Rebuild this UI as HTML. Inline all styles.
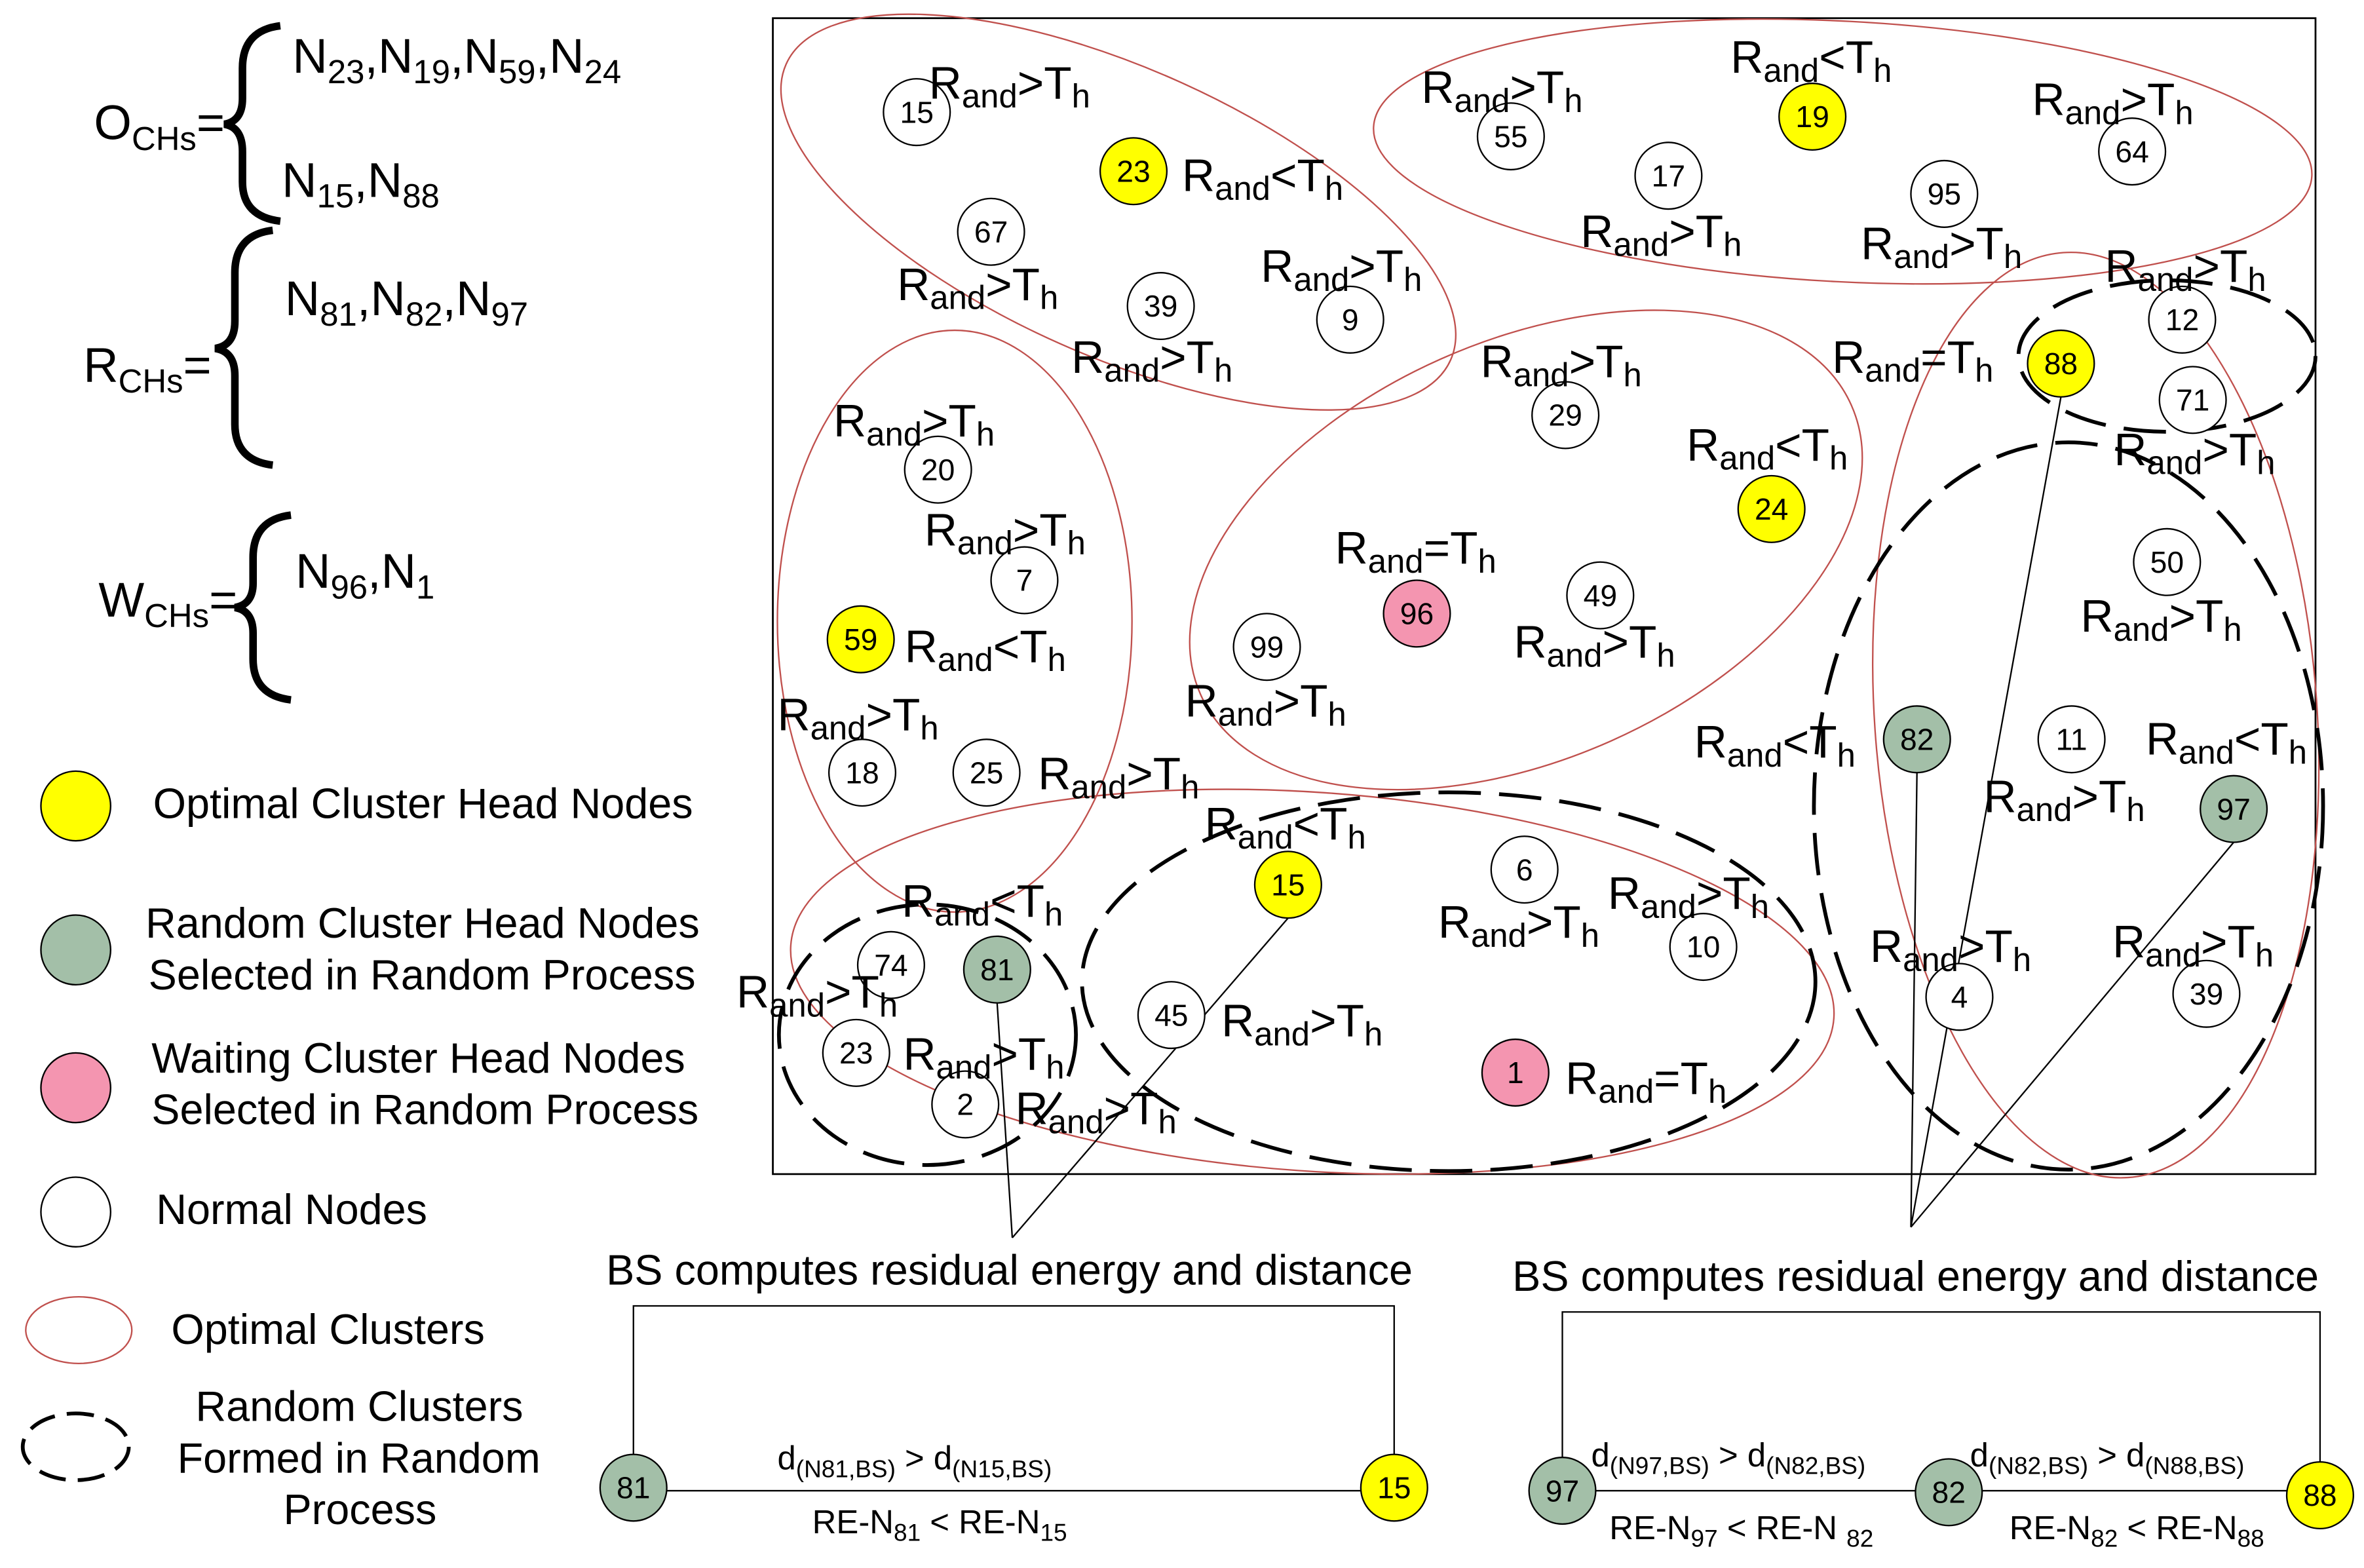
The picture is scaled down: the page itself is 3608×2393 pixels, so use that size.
<!DOCTYPE html>
<html><head><meta charset="utf-8"><style>html,body{margin:0;padding:0;background:#fff}svg{display:block}text{font-family:"Liberation Sans",sans-serif;fill:#000}</style></head><body>
<svg width="3608" height="2393" viewBox="0 0 1560 1035" preserveAspectRatio="none" xmlns="http://www.w3.org/2000/svg">
<rect x="510" y="12" width="1018" height="763" fill="none" stroke="#000" stroke-width="1.2"/>
<g fill="none" stroke="#c0504d" stroke-width="1">
<ellipse cx="738" cy="140" rx="240" ry="95" transform="rotate(24 738 140)"/>
<ellipse cx="1216" cy="100" rx="310" ry="86" transform="rotate(3 1216 100)"/>
<ellipse cx="630" cy="410" rx="117" ry="192"/>
<ellipse cx="1007" cy="363" rx="235" ry="138" transform="rotate(-24 1007 363)"/>
<ellipse cx="1383" cy="472" rx="146" ry="306" transform="rotate(-4 1383 472)"/>
<ellipse cx="866" cy="648" rx="345" ry="125" transform="rotate(4 866 648)"/>
<ellipse cx="52" cy="878" rx="35" ry="22"/>
</g>
<g fill="none" stroke="#000" stroke-width="2.5" stroke-dasharray="28 12">
<ellipse cx="1430" cy="235" rx="98" ry="50"/>
<ellipse cx="1365" cy="532" rx="168" ry="240"/>
<ellipse cx="956" cy="648" rx="242" ry="125"/>
<ellipse cx="612" cy="683" rx="98" ry="86"/>
<ellipse cx="50" cy="955" rx="35" ry="22" stroke-dasharray="18 8"/>
</g>
<g stroke="#000" stroke-width="1" fill="none">
<path d="M668 817L658 662M668 817L850 606M1261 810L1360 262M1261 810L1265 510M1261 810L1474 556"/>
<path d="M418 960V862H920V960M418 984H920"/>
<path d="M1031 962V866H1531V965M1031 984H1531"/>
</g>
<g stroke="#000" stroke-width="5" fill="none">
<path d="M185 17Q160 20 160 45V65Q160 80 148 82Q160 84 160 100V120Q160 143 185 146"/>
<path d="M180 152Q155 155 155 180V212Q155 228 142 230Q155 232 155 248V280Q155 304 180 307"/>
<path d="M192 340Q167 343 167 368V385Q167 399 155 401Q167 403 167 418V435Q167 459 192 462"/>
</g>
<g font-size="32">
<text x="62" y="92">O<tspan font-size="22" dy="7">CHs</tspan><tspan dy="-7">=</tspan></text>
<text x="193" y="48">N<tspan font-size="22" dy="7">23</tspan><tspan dy="-7">,N</tspan><tspan font-size="22" dy="7">19</tspan><tspan dy="-7">,N</tspan><tspan font-size="22" dy="7">59</tspan><tspan dy="-7">,N</tspan><tspan font-size="22" dy="7">24</tspan></text>
<text x="186" y="130">N<tspan font-size="22" dy="7">15</tspan><tspan dy="-7">,N</tspan><tspan font-size="22" dy="7">88</tspan></text>
<text x="55" y="252">R<tspan font-size="22" dy="7">CHs</tspan><tspan dy="-7">=</tspan></text>
<text x="188" y="208">N<tspan font-size="22" dy="7">81</tspan><tspan dy="-7">,N</tspan><tspan font-size="22" dy="7">82</tspan><tspan dy="-7">,N</tspan><tspan font-size="22" dy="7">97</tspan></text>
<text x="65" y="407">W<tspan font-size="22" dy="7">CHs</tspan><tspan dy="-7">=</tspan></text>
<text x="195" y="388">N<tspan font-size="22" dy="7">96</tspan><tspan dy="-7">,N</tspan><tspan font-size="22" dy="7">1</tspan></text>
</g>
<g font-size="28">
<text x="101" y="540">Optimal Cluster Head Nodes</text>
<text x="96" y="619">Random Cluster Head Nodes</text>
<text x="98" y="653">Selected in Random Process</text>
<text x="100" y="708">Waiting Cluster Head Nodes</text>
<text x="100" y="742">Selected in Random Process</text>
<text x="103" y="808">Normal Nodes</text>
<text x="113" y="887">Optimal Clusters</text>
<text x="129" y="938">Random Clusters</text>
<text x="117" y="972">Formed in Random</text>
<text x="187" y="1006">Process</text>
<text x="400" y="848">BS computes residual energy and distance</text>
<text x="998" y="852">BS computes residual energy and distance</text>
</g>
<g font-size="22">
<text x="513" y="970">d<tspan font-size="16" dy="5">(N81,BS)</tspan><tspan dy="-5"> &gt; d</tspan><tspan font-size="16" dy="5">(N15,BS)</tspan></text>
<text x="536" y="1012">RE-N<tspan font-size="16" dy="5">81</tspan><tspan dy="-5"> &lt; RE-N</tspan><tspan font-size="16" dy="5">15</tspan></text>
<text x="1050" y="968">d<tspan font-size="16" dy="5">(N97,BS)</tspan><tspan dy="-5"> &gt; d</tspan><tspan font-size="16" dy="5">(N82,BS)</tspan></text>
<text x="1062" y="1016">RE-N<tspan font-size="16" dy="5">97</tspan><tspan dy="-5"> &lt; RE-N </tspan><tspan font-size="16" dy="5">82</tspan></text>
<text x="1300" y="968">d<tspan font-size="16" dy="5">(N82,BS)</tspan><tspan dy="-5"> &gt; d</tspan><tspan font-size="16" dy="5">(N88,BS)</tspan></text>
<text x="1326" y="1016">RE-N<tspan font-size="16" dy="5">82</tspan><tspan dy="-5"> &lt; RE-N</tspan><tspan font-size="16" dy="5">88</tspan></text>
</g>
<g stroke="#000" stroke-width="1">
<circle cx="50" cy="532" r="23" fill="#ffff00"/>
<circle cx="50" cy="627" r="23" fill="#a3bfa8"/>
<circle cx="50" cy="718" r="23" fill="#f495b0"/>
<circle cx="50" cy="800" r="23" fill="#fff"/>
</g>
<g font-size="19" text-anchor="middle" stroke="#000" stroke-width="1">
<g fill="#fff">
<circle cx="605" cy="74" r="22"/><circle cx="654" cy="153" r="22"/><circle cx="766" cy="202" r="22"/><circle cx="891" cy="211" r="22"/><circle cx="997" cy="90" r="22"/><circle cx="1101" cy="116" r="22"/><circle cx="1283" cy="128" r="22"/><circle cx="1407" cy="100" r="22"/><circle cx="1440" cy="211" r="22"/><circle cx="1447" cy="264" r="22"/><circle cx="1033" cy="274" r="22"/><circle cx="619" cy="310" r="22"/><circle cx="676" cy="383" r="22"/><circle cx="836" cy="427" r="22"/><circle cx="1056" cy="393" r="22"/><circle cx="1430" cy="371" r="22"/><circle cx="569" cy="510" r="22"/><circle cx="651" cy="510" r="22"/><circle cx="1367" cy="488" r="22"/><circle cx="1006" cy="574" r="22"/><circle cx="1124" cy="625" r="22"/><circle cx="588" cy="637" r="22"/><circle cx="773" cy="670" r="22"/><circle cx="565" cy="695" r="22"/><circle cx="637" cy="729" r="22"/><circle cx="1293" cy="658" r="22"/><circle cx="1456" cy="656" r="22"/>
</g>
<g fill="#ffff00"><circle cx="748" cy="113" r="22"/><circle cx="1196" cy="77" r="22"/><circle cx="1360" cy="240" r="22"/><circle cx="1169" cy="336" r="22"/><circle cx="568" cy="422" r="22"/><circle cx="850" cy="584" r="22"/><circle cx="920" cy="982" r="22"/><circle cx="1531" cy="987" r="22"/></g>
<g fill="#a3bfa8"><circle cx="1265" cy="488" r="22"/><circle cx="1474" cy="534" r="22"/><circle cx="658" cy="640" r="22"/><circle cx="418" cy="982" r="22"/><circle cx="1031" cy="984" r="22"/><circle cx="1286" cy="985" r="22"/></g>
<g fill="#f495b0"><circle cx="935" cy="405" r="22"/><circle cx="1000" cy="708" r="22"/></g>
</g>
<g font-size="20" text-anchor="middle">
<text x="605" y="81">15</text><text x="654" y="160">67</text><text x="766" y="209">39</text><text x="891" y="218">9</text><text x="997" y="97">55</text><text x="1101" y="123">17</text><text x="1283" y="135">95</text><text x="1407" y="107">64</text><text x="1440" y="218">12</text><text x="1447" y="271">71</text><text x="1033" y="281">29</text><text x="619" y="317">20</text><text x="676" y="390">7</text><text x="836" y="434">99</text><text x="1056" y="400">49</text><text x="1430" y="378">50</text><text x="569" y="517">18</text><text x="651" y="517">25</text><text x="1367" y="495">11</text><text x="1006" y="581">6</text><text x="1124" y="632">10</text><text x="588" y="644">74</text><text x="773" y="677">45</text><text x="565" y="702">23</text><text x="637" y="736">2</text><text x="1293" y="665">4</text><text x="1456" y="663">39</text>
<text x="748" y="120">23</text><text x="1196" y="84">19</text><text x="1360" y="247">88</text><text x="1169" y="343">24</text><text x="568" y="429">59</text><text x="850" y="591">15</text><text x="920" y="989">15</text><text x="1531" y="994">88</text>
<text x="1265" y="495">82</text><text x="1474" y="541">97</text><text x="658" y="647">81</text><text x="418" y="989">81</text><text x="1031" y="991">97</text><text x="1286" y="992">82</text>
<text x="935" y="412">96</text><text x="1000" y="715">1</text>
</g>
<g font-size="30">
<text x="613" y="65">R<tspan font-size="22" dy="6">and</tspan><tspan dy="-6">&gt;T</tspan><tspan font-size="22" dy="6">h</tspan></text>
<text x="780" y="126">R<tspan font-size="22" dy="6">and</tspan><tspan dy="-6">&lt;T</tspan><tspan font-size="22" dy="6">h</tspan></text>
<text x="592" y="198">R<tspan font-size="22" dy="6">and</tspan><tspan dy="-6">&gt;T</tspan><tspan font-size="22" dy="6">h</tspan></text>
<text x="707" y="246">R<tspan font-size="22" dy="6">and</tspan><tspan dy="-6">&gt;T</tspan><tspan font-size="22" dy="6">h</tspan></text>
<text x="832" y="186">R<tspan font-size="22" dy="6">and</tspan><tspan dy="-6">&gt;T</tspan><tspan font-size="22" dy="6">h</tspan></text>
<text x="938" y="68">R<tspan font-size="22" dy="6">and</tspan><tspan dy="-6">&gt;T</tspan><tspan font-size="22" dy="6">h</tspan></text>
<text x="1142" y="48">R<tspan font-size="22" dy="6">and</tspan><tspan dy="-6">&lt;T</tspan><tspan font-size="22" dy="6">h</tspan></text>
<text x="1341" y="76">R<tspan font-size="22" dy="6">and</tspan><tspan dy="-6">&gt;T</tspan><tspan font-size="22" dy="6">h</tspan></text>
<text x="1043" y="163">R<tspan font-size="22" dy="6">and</tspan><tspan dy="-6">&gt;T</tspan><tspan font-size="22" dy="6">h</tspan></text>
<text x="1228" y="171">R<tspan font-size="22" dy="6">and</tspan><tspan dy="-6">&gt;T</tspan><tspan font-size="22" dy="6">h</tspan></text>
<text x="1389" y="186">R<tspan font-size="22" dy="6">and</tspan><tspan dy="-6">&gt;T</tspan><tspan font-size="22" dy="6">h</tspan></text>
<text x="1209" y="246">R<tspan font-size="22" dy="6">and</tspan><tspan dy="-6">=T</tspan><tspan font-size="22" dy="6">h</tspan></text>
<text x="977" y="249">R<tspan font-size="22" dy="6">and</tspan><tspan dy="-6">&gt;T</tspan><tspan font-size="22" dy="6">h</tspan></text>
<text x="1113" y="304">R<tspan font-size="22" dy="6">and</tspan><tspan dy="-6">&lt;T</tspan><tspan font-size="22" dy="6">h</tspan></text>
<text x="1395" y="307">R<tspan font-size="22" dy="6">and</tspan><tspan dy="-6">&gt;T</tspan><tspan font-size="22" dy="6">h</tspan></text>
<text x="550" y="288">R<tspan font-size="22" dy="6">and</tspan><tspan dy="-6">&gt;T</tspan><tspan font-size="22" dy="6">h</tspan></text>
<text x="610" y="360">R<tspan font-size="22" dy="6">and</tspan><tspan dy="-6">&gt;T</tspan><tspan font-size="22" dy="6">h</tspan></text>
<text x="597" y="437">R<tspan font-size="22" dy="6">and</tspan><tspan dy="-6">&lt;T</tspan><tspan font-size="22" dy="6">h</tspan></text>
<text x="881" y="372">R<tspan font-size="22" dy="6">and</tspan><tspan dy="-6">=T</tspan><tspan font-size="22" dy="6">h</tspan></text>
<text x="999" y="434">R<tspan font-size="22" dy="6">and</tspan><tspan dy="-6">&gt;T</tspan><tspan font-size="22" dy="6">h</tspan></text>
<text x="1373" y="417">R<tspan font-size="22" dy="6">and</tspan><tspan dy="-6">&gt;T</tspan><tspan font-size="22" dy="6">h</tspan></text>
<text x="782" y="473">R<tspan font-size="22" dy="6">and</tspan><tspan dy="-6">&gt;T</tspan><tspan font-size="22" dy="6">h</tspan></text>
<text x="513" y="482">R<tspan font-size="22" dy="6">and</tspan><tspan dy="-6">&gt;T</tspan><tspan font-size="22" dy="6">h</tspan></text>
<text x="685" y="521">R<tspan font-size="22" dy="6">and</tspan><tspan dy="-6">&gt;T</tspan><tspan font-size="22" dy="6">h</tspan></text>
<text x="1118" y="500">R<tspan font-size="22" dy="6">and</tspan><tspan dy="-6">&lt;T</tspan><tspan font-size="22" dy="6">h</tspan></text>
<text x="1416" y="498">R<tspan font-size="22" dy="6">and</tspan><tspan dy="-6">&lt;T</tspan><tspan font-size="22" dy="6">h</tspan></text>
<text x="1309" y="536">R<tspan font-size="22" dy="6">and</tspan><tspan dy="-6">&gt;T</tspan><tspan font-size="22" dy="6">h</tspan></text>
<text x="795" y="554">R<tspan font-size="22" dy="6">and</tspan><tspan dy="-6">&lt;T</tspan><tspan font-size="22" dy="6">h</tspan></text>
<text x="595" y="605">R<tspan font-size="22" dy="6">and</tspan><tspan dy="-6">&lt;T</tspan><tspan font-size="22" dy="6">h</tspan></text>
<text x="1061" y="600">R<tspan font-size="22" dy="6">and</tspan><tspan dy="-6">&gt;T</tspan><tspan font-size="22" dy="6">h</tspan></text>
<text x="949" y="619">R<tspan font-size="22" dy="6">and</tspan><tspan dy="-6">&gt;T</tspan><tspan font-size="22" dy="6">h</tspan></text>
<text x="486" y="665">R<tspan font-size="22" dy="6">and</tspan><tspan dy="-6">&gt;T</tspan><tspan font-size="22" dy="6">h</tspan></text>
<text x="596" y="706">R<tspan font-size="22" dy="6">and</tspan><tspan dy="-6">&gt;T</tspan><tspan font-size="22" dy="6">h</tspan></text>
<text x="806" y="684">R<tspan font-size="22" dy="6">and</tspan><tspan dy="-6">&gt;T</tspan><tspan font-size="22" dy="6">h</tspan></text>
<text x="670" y="742">R<tspan font-size="22" dy="6">and</tspan><tspan dy="-6">&gt;T</tspan><tspan font-size="22" dy="6">h</tspan></text>
<text x="1033" y="722">R<tspan font-size="22" dy="6">and</tspan><tspan dy="-6">=T</tspan><tspan font-size="22" dy="6">h</tspan></text>
<text x="1234" y="635">R<tspan font-size="22" dy="6">and</tspan><tspan dy="-6">&gt;T</tspan><tspan font-size="22" dy="6">h</tspan></text>
<text x="1394" y="632">R<tspan font-size="22" dy="6">and</tspan><tspan dy="-6">&gt;T</tspan><tspan font-size="22" dy="6">h</tspan></text>
</g>
</svg>
</body></html>
